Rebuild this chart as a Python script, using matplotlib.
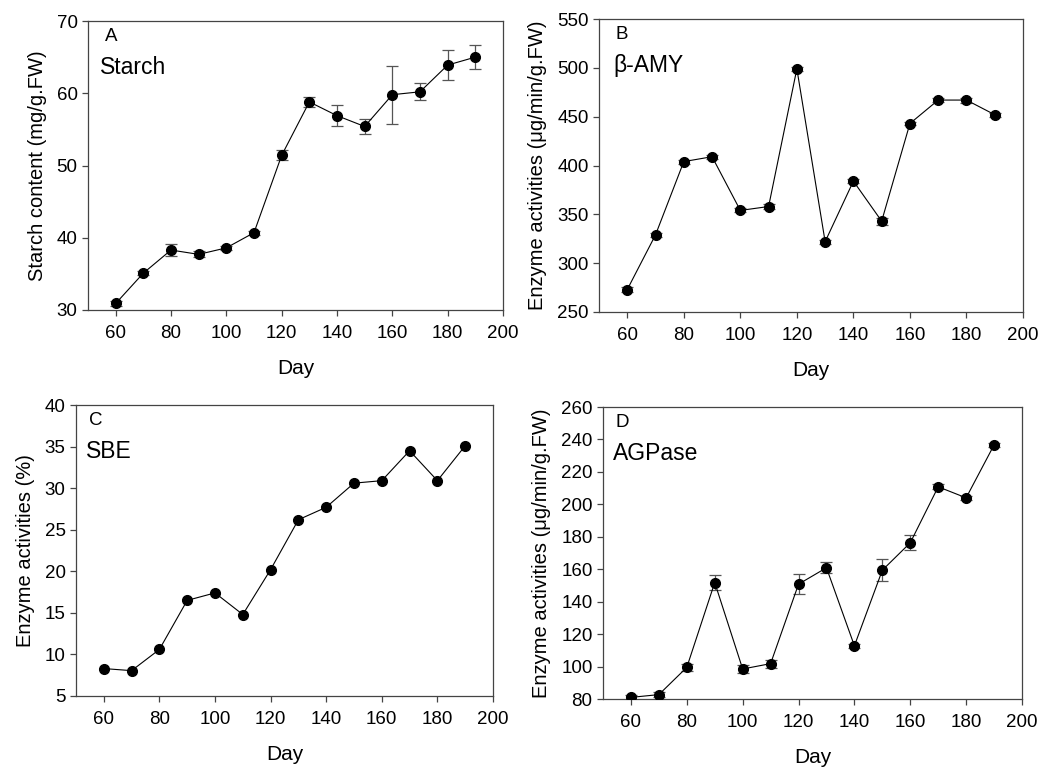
import numpy as np
import matplotlib.pyplot as plt

plt.rcParams['font.family'] = ['Liberation Sans', 'DejaVu Sans']

days = [60, 70, 80, 90, 100, 110, 120, 130, 140, 150, 160, 170, 180, 190]

starch = [30.9, 35.1, 38.3, 37.7, 38.6, 40.7, 51.4, 58.8, 56.9, 55.4, 59.8, 60.2, 63.9, 65.0]
starch_err = [0.4, 0.3, 0.85, 0.4, 0.3, 0.3, 0.7, 0.65, 1.5, 1.1, 4.0, 1.2, 2.05, 1.65]

amy = [273, 329, 404, 409, 354, 358, 499, 322, 384, 343, 443, 467, 467, 452]
amy_err = [2.5, 2, 2, 2, 2, 3, 2, 2, 2, 3.5, 2, 2, 2.5, 2]

sbe = [8.3, 8.05, 10.6, 16.5, 17.4, 14.8, 20.2, 26.2, 27.7, 30.6, 30.9, 34.5, 30.9, 35.1]

agp = [81.0, 82.7, 99.5, 151.8, 98.5, 101.8, 150.8, 160.9, 112.8, 159.4, 176.3, 210.8, 204.0, 236.6]
agp_err = [1.5, 1.5, 2.0, 4.4, 2.5, 2.5, 6.0, 3.3, 1.2, 6.7, 4.6, 1.5, 1.2, 1.5]

fig = plt.figure(figsize=(10.39, 7.67), dpi=100)
W, H = 1039, 767

def make_ax(l, r, t, b):
    return fig.add_axes([l / W, 1 - b / H, (r - l) / W, (b - t) / H])

panels = [
    (make_ax(88, 503, 21, 310), days, starch, starch_err, (30, 70), np.arange(30, 71, 10),
     'Starch content (mg/g.FW)', 'A', 'Starch', 0.04, 0.03),
    (make_ax(599, 1023, 19, 312), days, amy, amy_err, (250, 550), np.arange(250, 551, 50),
     'Enzyme activities (\u03bcg/min/g.FW)', 'B', '\u03b2-AMY', 0.04, 0.035),
    (make_ax(76, 493, 405, 696), days, sbe, None, (5, 40), np.arange(5, 41, 5),
     'Enzyme activities (%)', 'C', 'SBE', 0.03, 0.025),
    (make_ax(603, 1022, 407, 699), days, agp, agp_err, (80, 260), np.arange(80, 261, 20),
     'Enzyme activities (\u03bcg/min/g.FW)', 'D', 'AGPase', 0.03, 0.024),
]

for ax, x, y, err, ylim, yticks, ylabel, letter, name, lx, nx in panels:
    ax.plot(x, y, color='black', lw=0.8, zorder=2)
    if err is not None:
        ax.errorbar(x, y, yerr=err, fmt='none', ecolor='#555555', elinewidth=0.9,
                    capsize=4.5, capthick=0.9, zorder=1)
    ax.plot(x, y, 'o', color='black', ms=7, zorder=3)
    ax.set_xlim(50, 200)
    ax.set_xticks(np.arange(60, 201, 20))
    ax.set_ylim(*ylim)
    ax.set_yticks(yticks)
    for s in ax.spines.values():
        s.set_color('#444444')
        s.set_linewidth(0.9)
    ax.tick_params(direction='out', length=4, width=0.9, color='#444444',
                   labelsize=13.5, top=False, right=False)
    ax.tick_params(axis='x', pad=7)
    ax.set_xlabel('Day', fontsize=15, labelpad=12)
    ax.set_ylabel(ylabel, fontsize=14.5, labelpad=7)
    ax.text(lx, 0.975, letter, transform=ax.transAxes, fontsize=13.5, va='top')
    ax.text(nx, 0.88, name, transform=ax.transAxes, fontsize=16.5, va='top')

fig.savefig('out.png', dpi=100)
